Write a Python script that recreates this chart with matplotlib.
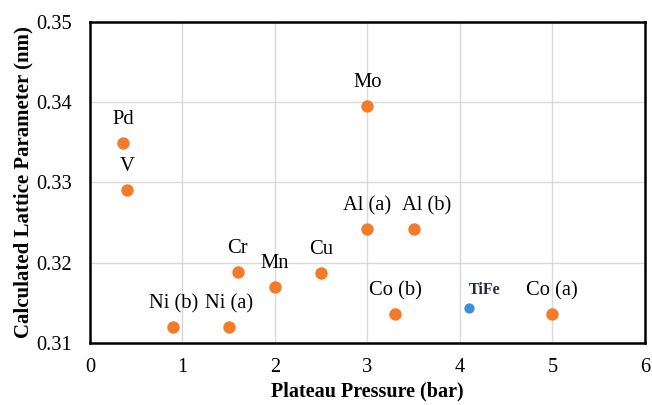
import matplotlib
matplotlib.use("Agg")
import matplotlib.pyplot as plt

# values
labels = ["Pd", "V", "Mo", "Al (a)", "Al (b)", "Cr", "Mn", "Cu",
          "Ni (b)", "Ni (a)", "Co (b)", "Co (a)"]
pressure = [0.36, 0.40, 3.0, 3.0, 3.5, 1.6, 2.0, 2.5, 0.9, 1.5, 3.3, 5.0]
lattice = [0.3349, 0.3291, 0.3395, 0.3242, 0.3242, 0.3188, 0.3170, 0.3187,
           0.3120, 0.3120, 0.3136, 0.3136]

tife_x = [4.1]
tife_y = [0.3144]

plt.rcParams['font.family'] = ['Liberation Serif', 'DejaVu Serif']

fig = plt.figure(figsize=(6.52, 4.05), dpi=100)
ax = fig.add_axes([0.138, 0.153, 0.851, 0.793])

ax.scatter(pressure, lattice, s=80, color="#F47B2A", zorder=3, linewidths=0)
ax.scatter(tife_x, tife_y, s=55, color="#3E8FD6", zorder=3, linewidths=0)

# Al (b) label sits a little to the right so it doesn't run into Al (a)
shift = {"Al (b)": 9}
for lab, x, y in zip(labels, pressure, lattice):
    ax.annotate(lab, (x, y), xytext=(shift.get(lab, 0), 10), textcoords="offset points",
                ha="center", va="bottom", fontsize=14.8)
ax.annotate("TiFe", (tife_x[0], tife_y[0]), xytext=(0, 7), textcoords="offset points",
            ha="left", va="bottom", fontsize=11.5, fontweight="bold", color="#1F2A44")

ax.set_xlim(0, 6)
ax.set_ylim(0.31, 0.35)
ax.set_xticks(range(0, 7))
ax.set_yticks([0.31, 0.32, 0.33, 0.34, 0.35])
ax.set_yticklabels(["0.31", "0.32", "0.33", "0.34", "0.35"])
ax.tick_params(labelsize=14.7, length=0)
ax.tick_params(axis="y", pad=13)
ax.tick_params(axis="x", pad=11)
ax.grid(True, color="#D9D9D9", linewidth=1)
ax.set_axisbelow(True)
for sp in ax.spines.values():
    sp.set_linewidth(1.8)
    sp.set_color("black")

ax.set_xlabel("Plateau Pressure (bar)", fontsize=14.5, fontweight="bold", labelpad=3)
ax.set_ylabel("Calculated Lattice Parameter (nm)", fontsize=15, fontweight="bold", labelpad=2)

fig.savefig("out.png", dpi=100)
